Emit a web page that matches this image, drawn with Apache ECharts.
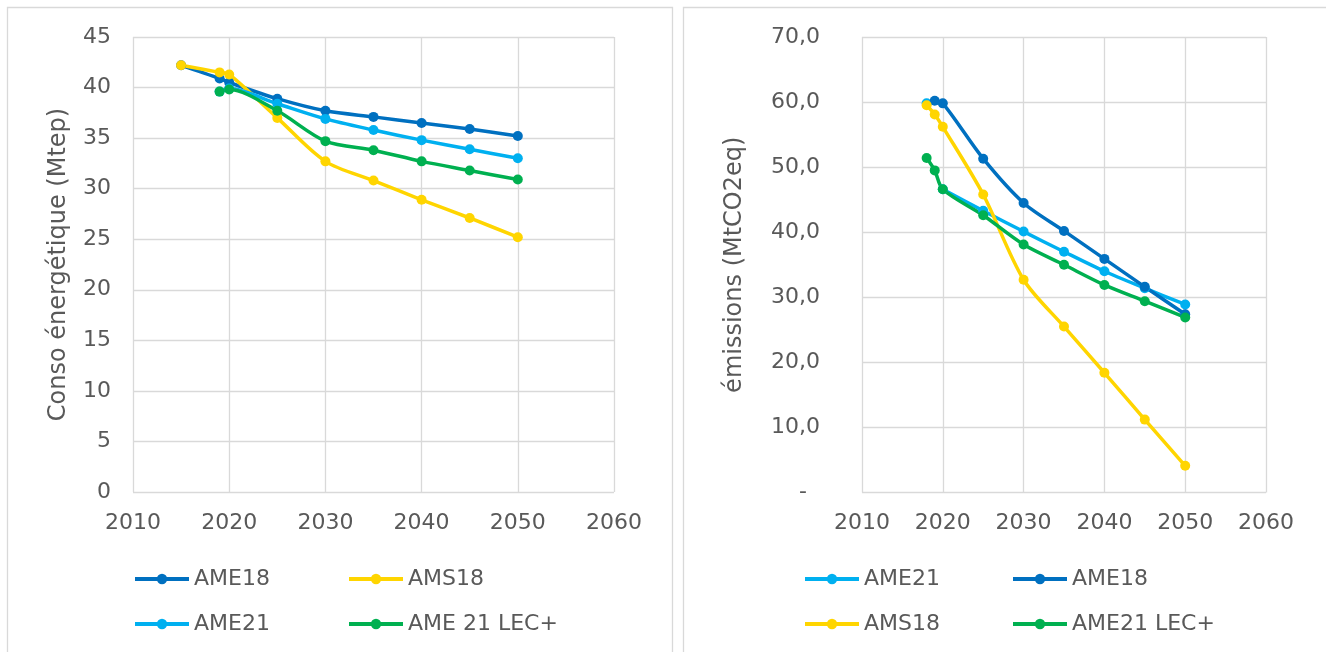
<!DOCTYPE html>
<html>
<head>
<meta charset="utf-8">
<script src="https://cdn.jsdelivr.net/npm/echarts@6/dist/echarts.min.js"></script>
<style>
html,body{margin:0;padding:0;background:#fff;}
#c{width:1326px;height:652px;}
</style>
</head>
<body>
<div id="c"></div>
<script>
// ---- Left chart: energy consumption (Mtep) ----
const leftYearsA = [2015, 2019, 2020, 2025, 2030, 2035, 2040, 2045, 2050];
const leftAME18 = [42.2, 40.9, 40.5, 38.9, 37.7, 37.1, 36.5, 35.9, 35.2];
const leftAMS18 = [42.2, 41.5, 41.3, 37.0, 32.7, 30.8, 28.9, 27.1, 25.2];
const leftYearsB = [2019, 2020, 2025, 2030, 2035, 2040, 2045, 2050];
const leftAME21 = [39.6, 39.9, 38.4, 36.9, 35.8, 34.8, 33.9, 33.0];
const leftLEC = [39.6, 39.8, 37.7, 34.7, 33.8, 32.7, 31.8, 30.9];
const leftTicksY = {min: 0, max: 45, interval: 5};
const leftTitle = 'Conso énergétique (Mtep)';
const leftNames = ['AME18', 'AMS18', 'AME21', 'AME 21 LEC+'];

// ---- Right chart: emissions (MtCO2eq) ----
const rightYears = [2018, 2019, 2020, 2025, 2030, 2035, 2040, 2045, 2050];
const rightAME21 = [59.8, null, 46.6, 43.3, 40.1, 37.0, 34.0, 31.4, 28.9];
const rightAME18 = [null, 60.2, 59.8, 51.3, 44.5, 40.2, 35.9, 31.6, 27.4];
const rightAMS18 = [59.5, 58.1, 56.2, 45.8, 32.7, 25.5, 18.4, 11.2, 4.1];
const rightLEC = [51.4, 49.5, 46.6, 42.6, 38.1, 35.0, 31.9, 29.4, 26.9];
const rightTicksY = {min: 0, max: 70, interval: 10};
const rightTitle = 'émissions (MtCO2eq)';
const rightNames = ['AME21', 'AME18', 'AMS18', 'AME21 LEC+'];

const xTicks = {min: 2010, max: 2060, interval: 10};

const C_DARK = '#0070C0', C_LIGHT = '#00B0F0', C_YEL = '#FFD500', C_GREEN = '#00B050';
const FONT = 'DejaVu Sans';
const FS = 22;
const GRID_C = '#D9D9D9';
const TXT_C = '#595959';

function pairs(xs, ys) {
  return xs.map((x, i) => [x, ys[i] == null ? '-' : ys[i]]);
}
function line(name, xs, ys, color, xi) {
  return {
    type: 'line', name: name, xAxisIndex: xi, yAxisIndex: xi,
    data: pairs(xs, ys), smooth: 0.3, symbol: 'circle', symbolSize: 10,
    lineStyle: {width: 3.5, color: color}, itemStyle: {color: color},
    emphasis: {disabled: true}, connectNulls: false
  };
}
function xAxis(gi) {
  return {
    type: 'value', gridIndex: gi, min: xTicks.min, max: xTicks.max, interval: xTicks.interval,
    axisLine: {show: false}, axisTick: {show: false},
    splitLine: {show: true, lineStyle: {color: GRID_C, width: 1.3}},
    axisLabel: {color: TXT_C, fontFamily: FONT, fontSize: FS, margin: 20, formatter: function (v) { return String(v); }}
  };
}
function legendItem(name, left, top) {
  return {
    data: [name], left: left, top: top, orient: 'horizontal', padding: 0,
    itemWidth: 54, itemHeight: 13,
    lineStyle: {width: 4},
    textStyle: {color: TXT_C, fontFamily: FONT, fontSize: FS},
    selectedMode: false
  };
}

const chart = echarts.init(document.getElementById('c'), null, {renderer: 'canvas'});
chart.setOption({
  backgroundColor: '#fff',
  animation: false,
  graphic: [
    {type: 'rect', shape: {x: 7.5, y: 7.5, width: 665, height: 700}, style: {fill: 'none', stroke: GRID_C, lineWidth: 1.3}, silent: true},
    {type: 'rect', shape: {x: 683.5, y: 7.5, width: 700, height: 700}, style: {fill: 'none', stroke: GRID_C, lineWidth: 1.3}, silent: true}
  ],
  grid: [
    {left: 133, top: 37, width: 481, height: 455},
    {left: 862, top: 37, width: 404, height: 455.5}
  ],
  xAxis: [xAxis(0), xAxis(1)],
  yAxis: [
    {
      type: 'value', gridIndex: 0, min: leftTicksY.min, max: leftTicksY.max, interval: leftTicksY.interval,
      axisLine: {show: false}, axisTick: {show: false},
      splitLine: {show: true, lineStyle: {color: GRID_C, width: 1.3}},
      axisLabel: {color: TXT_C, fontFamily: FONT, fontSize: FS, margin: 22},
      name: leftTitle, nameLocation: 'middle', nameGap: 62, nameRotate: 90,
      nameTextStyle: {color: TXT_C, fontFamily: FONT, fontSize: 24}
    },
    {
      type: 'value', gridIndex: 1, min: rightTicksY.min, max: rightTicksY.max, interval: rightTicksY.interval,
      axisLine: {show: false}, axisTick: {show: false},
      splitLine: {show: true, lineStyle: {color: GRID_C, width: 1.3}},
      axisLabel: {
        color: TXT_C, fontFamily: FONT, fontSize: FS, margin: 42,
        formatter: function (v) { return v === 0 ? '{d|-}' : v.toFixed(1).replace('.', ','); },
        rich: {d: {color: TXT_C, fontFamily: FONT, fontSize: FS, padding: [0, 13, 0, 0]}}
      },
      name: rightTitle, nameLocation: 'middle', nameGap: 115, nameRotate: 90,
      nameTextStyle: {color: TXT_C, fontFamily: FONT, fontSize: 24}
    }
  ],
  legend: [
    legendItem(leftNames[0], 133, 568),
    legendItem(leftNames[1], 347, 568),
    legendItem(leftNames[2], 133, 613),
    legendItem(leftNames[3], 347, 613),
    legendItem(rightNames[0], 803, 568),
    legendItem(rightNames[1], 1011, 568),
    legendItem(rightNames[2], 803, 613),
    legendItem(rightNames[3], 1011, 613)
  ],
  series: [
    line(leftNames[0], leftYearsA, leftAME18, C_DARK, 0),
    line(leftNames[1], leftYearsA, leftAMS18, C_YEL, 0),
    line(leftNames[2], leftYearsB, leftAME21, C_LIGHT, 0),
    line(leftNames[3], leftYearsB, leftLEC, C_GREEN, 0),
    line(rightNames[0], rightYears, rightAME21, C_LIGHT, 1),
    line(rightNames[1], rightYears, rightAME18, C_DARK, 1),
    line(rightNames[2], rightYears, rightAMS18, C_YEL, 1),
    line(rightNames[3], rightYears, rightLEC, C_GREEN, 1)
  ]
});
</script>
</body>
</html>
